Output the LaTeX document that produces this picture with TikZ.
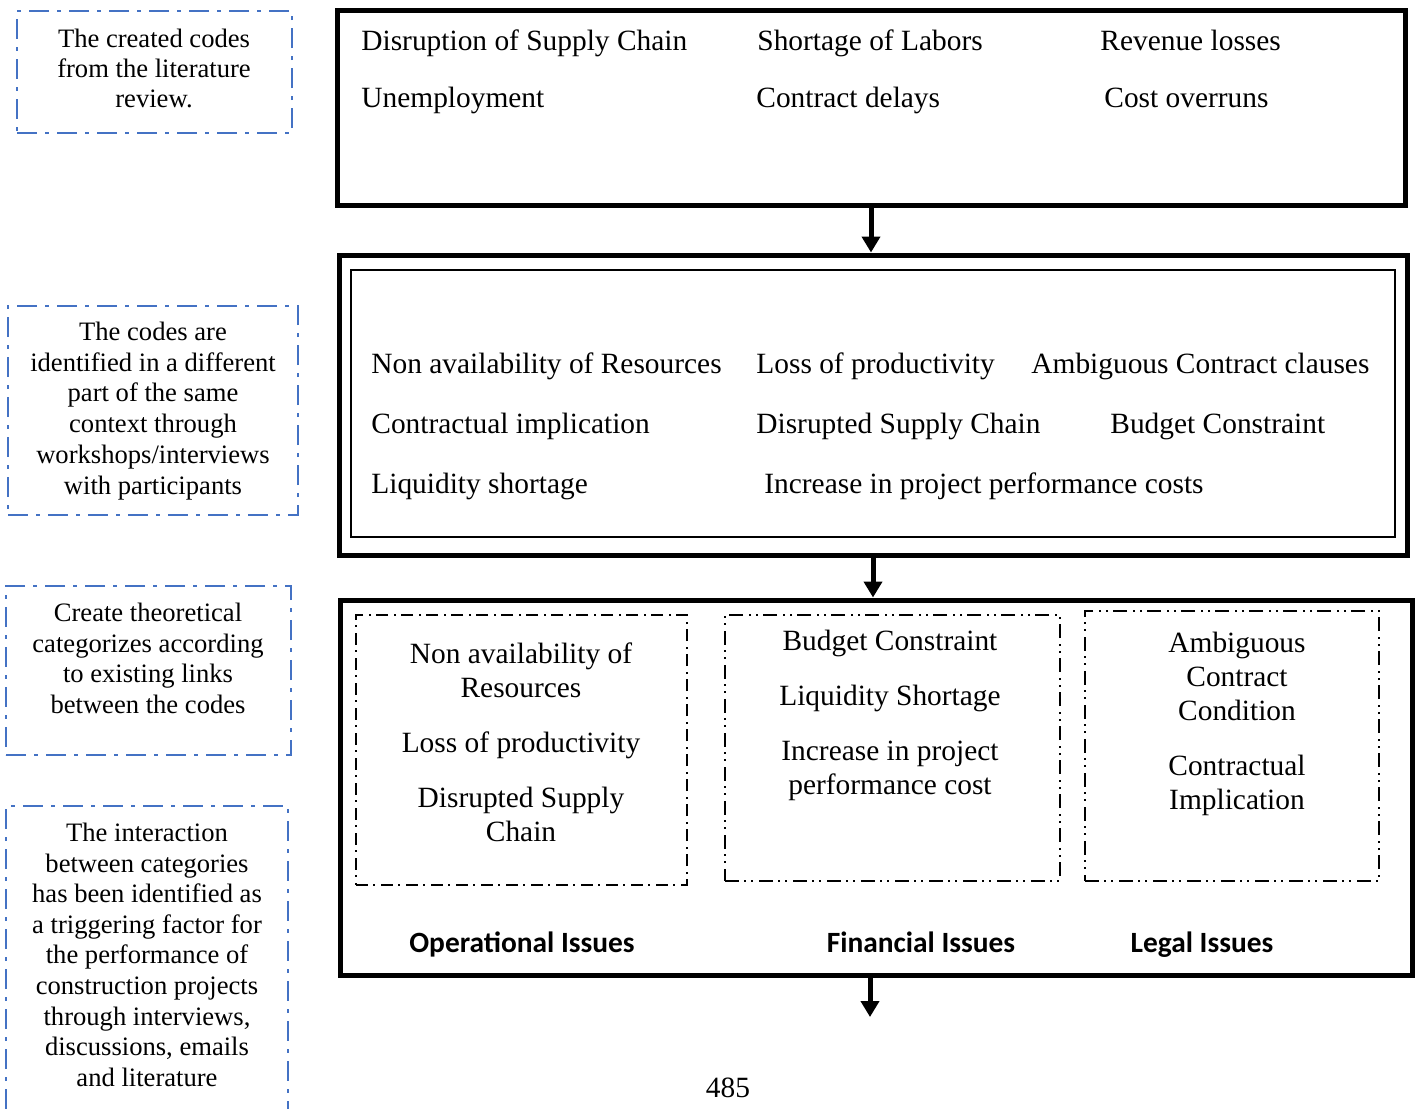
\documentclass[tikz,border=0pt]{standalone}
\usepackage{fontspec}
\setmainfont{Liberation Serif}
\newfontfamily\lblfont{Carlito}
\usetikzlibrary{arrows.meta,fit}
\definecolor{bluedash}{HTML}{4472C4}
\begin{document}
\begin{tikzpicture}[x=0.5pt,y=-0.5pt,
  bluebox/.style={draw=bluedash,line width=1pt,inner sep=0,dash pattern=on 10pt off 4pt on 2pt off 4pt},
  sidetext/.style={anchor=base,inner sep=0,font=\fontsize{13.3}{15.35}\selectfont},
  bigbox/.style={draw,line width=2.5pt,inner sep=0},
  thinbox/.style={draw,line width=1pt,inner sep=0},
  dashdot/.style={draw,line width=0.8pt,inner sep=0,dash pattern=on 6pt off 2.5pt on 1pt off 3pt},
  dashdotdot/.style={draw,line width=0.8pt,inner sep=0,dash pattern=on 7pt off 2.5pt on 1pt off 2.5pt on 1pt off 3pt},
  code/.style={anchor=base west,inner sep=0,font=\fontsize{14.7}{17}\selectfont},
  ccode/.style={anchor=base,inner sep=0,font=\fontsize{14.7}{17}\selectfont},
  cat/.style={anchor=base,inner sep=0,font=\lblfont\bfseries\fontsize{14.7}{17}\selectfont},
  arr/.style={line width=2.5pt,-{Triangle[width=9pt,length=8pt]}}
]
\useasboundingbox (0,0) rectangle (1415,1109);

% ---- left blue explanation boxes ----
\node[bluebox,fit={(17,11) (292,133)}] (l1) {};
\node[sidetext] (l1a) at (154,47) {The created codes};
\node[sidetext] (l1b) at (154,77) {from the literature};
\node[sidetext] (l1c) at (154,107) {review.};

\node[bluebox,fit={(8,306) (298,515)}] (l2) {};
\node[sidetext] (l2a) at (153,340) {The codes are};
\node[sidetext] (l2b) at (153,371) {identified in a different};
\node[sidetext] (l2c) at (153,401) {part of the same};
\node[sidetext] (l2d) at (153,432) {context through};
\node[sidetext] (l2e) at (153,463) {workshops/interviews};
\node[sidetext] (l2f) at (153,494) {with participants};

\node[bluebox,fit={(6,586) (291,755)}] (l3) {};
\node[sidetext] (l3a) at (148,621) {Create theoretical};
\node[sidetext] (l3b) at (148,652) {categorizes according};
\node[sidetext] (l3c) at (148,682) {to existing links};
\node[sidetext] (l3d) at (148,713) {between the codes};

\draw[bluebox] (6,1109) -- (6,806) -- (288,806) -- (288,1109);
\node[sidetext] (l4a) at (147,841) {The interaction};
\node[sidetext] (l4b) at (147,872) {between categories};
\node[sidetext] (l4c) at (147,902) {has been identified as};
\node[sidetext] (l4d) at (147,933) {a triggering factor for};
\node[sidetext] (l4e) at (147,963) {the performance of};
\node[sidetext] (l4f) at (147,994) {construction projects};
\node[sidetext] (l4g) at (147,1025) {through interviews,};
\node[sidetext] (l4h) at (147,1055) {discussions, emails};
\node[sidetext] (l4i) at (147,1086) {and literature};

% ---- top box ----
\node[bigbox,fit={(337,10) (1405,205)}] (top) {};
\node[code] (t1) at (361,50) {Disruption of Supply Chain};
\node[code] (t2) at (757,50) {Shortage of Labors};
\node[code] (t3) at (1100,50) {Revenue losses};
\node[code] (t4) at (361,107) {Unemployment};
\node[code] (t5) at (756,107) {Contract delays};
\node[code] (t6) at (1104,107) {Cost overruns};

% ---- middle box ----
\node[bigbox,fit={(339,255) (1407,555)}] (mid) {};
\node[thinbox,fit={(351,270) (1395,537)}] (midin) {};
\node[code] (m1) at (371,373) {Non availability of Resources};
\node[code] (m2) at (756,373) {Loss of productivity};
\node[code] (m3) at (1031,373) {Ambiguous Contract clauses};
\node[code] (m4) at (371,433) {Contractual implication};
\node[code] (m5) at (756,433) {Disrupted Supply Chain};
\node[code] (m6) at (1110,433) {Budget Constraint};
\node[code] (m7) at (371,493) {Liquidity shortage};
\node[code] (m8) at (764,493) {Increase in project performance costs};

% ---- bottom box ----
\node[bigbox,fit={(340,600) (1412,975)}] (bot) {};
\node[dashdot,fit={(356,615) (687,885)}] (ops) {};
\node[ccode] (o1) at (521,663) {Non availability of};
\node[ccode] (o2) at (521,697) {Resources};
\node[ccode] (o3) at (521,752) {Loss of productivity};
\node[ccode] (o4) at (521,807) {Disrupted Supply};
\node[ccode] (o5) at (521,841) {Chain};

\node[dashdotdot,fit={(725,615) (1060,881)}] (fin) {};
\node[ccode] (f1) at (890,650) {Budget Constraint};
\node[ccode] (f2) at (890,705) {Liquidity Shortage};
\node[ccode] (f3) at (890,760) {Increase in project};
\node[ccode] (f4) at (890,794) {performance cost};

\node[dashdotdot,fit={(1085,611) (1379,881)}] (leg) {};
\node[ccode] (g1) at (1237,652) {Ambiguous};
\node[ccode] (g2) at (1237,686) {Contract};
\node[ccode] (g3) at (1237,720) {Condition};
\node[ccode] (g4) at (1237,775) {Contractual};
\node[ccode] (g5) at (1237,809) {Implication};

\node[cat] (c1) at (522,952) {Operational Issues};
\node[cat] (c2) at (921,952) {Financial Issues};
\node[cat] (c3) at (1202,952) {Legal Issues};

% ---- arrows ----
\draw[arr] (top.south) -- (top.south |- mid.north);
\draw[arr] (mid.south) -- (mid.south |- bot.north);
\coordinate (endpt) at (870,1017);
\draw[arr] (bot.south -| endpt) -- (endpt);

\node[ccode] (page) at (728,1097) {485};
\end{tikzpicture}
\end{document}
